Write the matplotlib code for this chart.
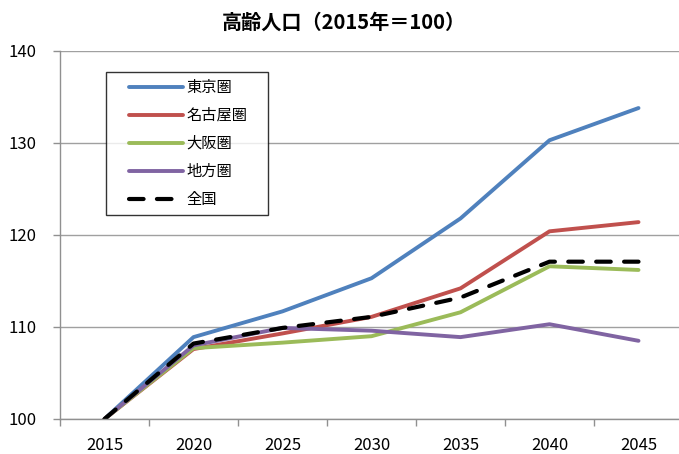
import matplotlib
matplotlib.use("Agg")
import matplotlib.pyplot as plt
from matplotlib.legend_handler import HandlerLine2D
from matplotlib.ticker import FixedLocator, NullFormatter

plt.rcParams["font.family"] = ["Noto Sans CJK JP", "DejaVu Sans"]

years = ["2015", "2020", "2025", "2030", "2035", "2040", "2045"]
tokyo = [100, 108.9, 111.7, 115.3, 121.8, 130.3, 133.8]
nagoya = [100, 107.6, 109.3, 111.1, 114.2, 120.4, 121.4]
osaka = [100, 107.7, 108.3, 109.0, 111.6, 116.6, 116.2]
regional = [100, 108.0, 109.9, 109.6, 108.9, 110.3, 108.5]
national = [100, 108.2, 109.9, 111.1, 113.2, 117.1, 117.1]

series = [
    ("東京圏", tokyo, "#4F81BD"),
    ("名古屋圏", nagoya, "#C0504D"),
    ("大阪圏", osaka, "#9BBB59"),
    ("地方圏", regional, "#8064A2"),
]

W, H = 679, 454
fig = plt.figure(figsize=(W / 100, H / 100), dpi=100)
ax = fig.add_axes([60 / W, 35 / H, (683 - 60) / W, (419 - 51) / H])

x = list(range(len(years)))
for name, vals, color in series:
    ax.plot(x, vals, color=color, linewidth=2.8, label=name, solid_capstyle="round")
ax.plot(x, national, color="black", linewidth=3.0, linestyle=(0, (3.5, 3.2)),
        label="全国", dash_capstyle="round")

ax.set_xlim(-0.5, len(years) - 0.5)
ax.set_ylim(100, 140)
ax.set_yticks([100, 110, 120, 130, 140])
ax.yaxis.grid(True, color="#a0a0a0", linewidth=1.0)
ax.set_axisbelow(True)

# category boundaries carry the tick marks, centres carry the labels
ax.xaxis.set_major_locator(FixedLocator([i - 0.5 for i in range(len(years) + 1)]))
ax.xaxis.set_major_formatter(NullFormatter())
ax.xaxis.set_minor_locator(FixedLocator(x))
ax.set_xticklabels(years, minor=True)
ax.tick_params(axis="x", which="major", length=5, color="#909090", width=1)
ax.tick_params(axis="x", which="minor", length=0, pad=13, labelsize=12)
ax.tick_params(axis="y", length=5, color="#909090", width=1, pad=12, labelsize=12)

for side in ("top", "right"):
    ax.spines[side].set_visible(False)
for side in ("left", "bottom"):
    ax.spines[side].set_color("#909090")
    ax.spines[side].set_linewidth(1.0)

# xpad pushes the sample line right inside its handle box
handler = HandlerLine2D(xpad=1.08)
leg = ax.legend(loc="upper left", bbox_to_anchor=(0.0738, 0.0, 0.26, 0.943),
                mode="expand", fontsize=11, frameon=True, fancybox=False,
                handlelength=4.6, handletextpad=0.2, labelspacing=0.72,
                borderpad=0.45, borderaxespad=0,
                handler_map={l: handler for l in ax.get_lines()})
leg.get_frame().set_edgecolor("black")
leg.get_frame().set_linewidth(1.0)

fig.text(0.506, 1 - 22 / H, "高齢人口（2015年＝100）", ha="center", va="center",
         fontsize=14.5, fontweight="bold")

fig.savefig("out.png", dpi=100)
